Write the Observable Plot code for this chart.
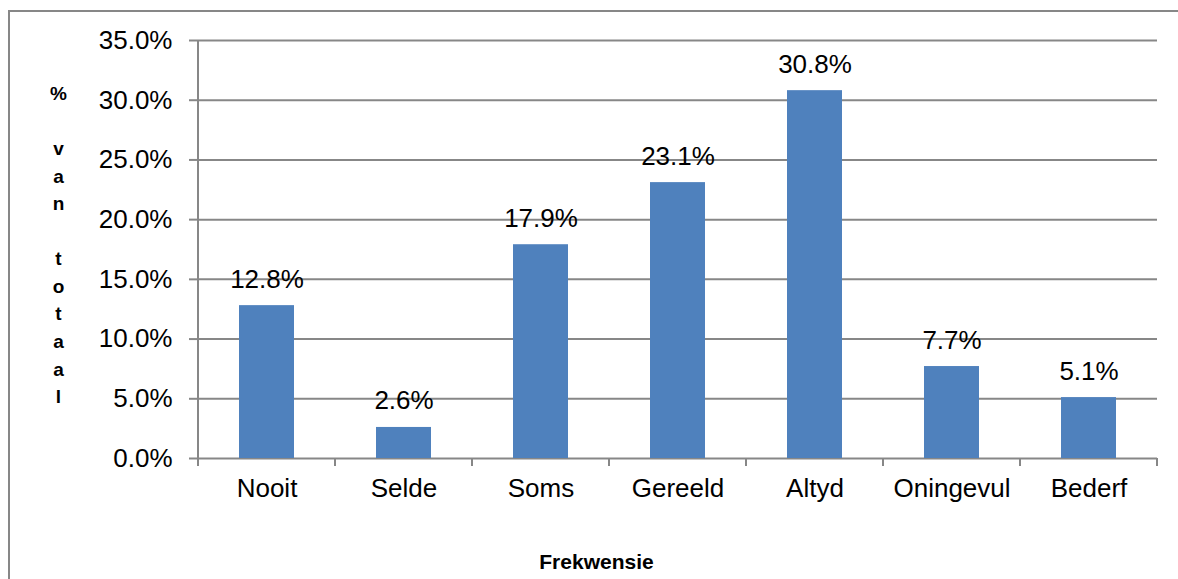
<!DOCTYPE html>
<html>
<head>
<meta charset="utf-8">
<script src="https://cdn.jsdelivr.net/npm/d3@7"></script>
<script src="https://cdn.jsdelivr.net/npm/@observablehq/plot@0.6"></script>
<style>
  html, body { margin: 0; padding: 0; background: #fff; }
  #chart { position: relative; width: 1178px; height: 579px; overflow: hidden; }
  #chart .edge { position: absolute; left: 8px; top: 10px; width: 1300px; height: 700px;
    border-left: 2px solid #878787; border-top: 2px solid #878787; }
  #chart svg { position: absolute; left: 0; top: 0; }
</style>
</head>
<body>
<div id="chart"><div class="edge"></div></div>
<script>
// Response frequency categories and their share of the total
const categories = ["Nooit", "Selde", "Soms", "Gereeld", "Altyd", "Oningevul", "Bederf"];
const shares = [0.128, 0.026, 0.179, 0.231, 0.308, 0.077, 0.051];
const yTicks = [0, 0.05, 0.10, 0.15, 0.20, 0.25, 0.30, 0.35];
const yTitle = "% van totaal";
const xTitle = "Frekwensie";

const rows = categories.map((c, i) => ({category: c, share: shares[i]}));
const pct = d3.format(".1%");
const gray = "#878787";
const font = "'Liberation Sans', Arial, sans-serif";

// Axis lines plus tick marks between categories
function categoryTicks(index, scales) {
  const x = scales.x, y = scales.y;
  const step = x(categories[1]) - x(categories[0]);
  const bw = typeof x.bandwidth === "function" ? x.bandwidth() : step * 0.4;
  const y0 = y(0);
  const g = d3.create("svg:g").attr("stroke", gray).attr("stroke-width", 2);
  const bounds = categories.map(c => x(c) - (step - bw) / 2);
  bounds.push(bounds[bounds.length - 1] + step);
  g.append("line")
    .attr("x1", bounds[0]).attr("x2", bounds[0])
    .attr("y1", y(yTicks[yTicks.length - 1])).attr("y2", y0 + 8);
  for (const bx of bounds.slice(1)) {
    g.append("line").attr("x1", bx).attr("x2", bx).attr("y1", y0).attr("y2", y0 + 8);
  }
  return g.node();
}

const chart = Plot.plot({
  width: 1178,
  height: 579,
  marginLeft: 197,
  marginRight: 21,
  marginTop: 40,
  marginBottom: 121,
  style: {fontFamily: font, background: "transparent", color: "#000"},
  x: {domain: categories, paddingInner: 0.6, paddingOuter: 0.3, label: null},
  y: {domain: [0, 0.35], label: null},
  marks: [
    Plot.ruleY(yTicks, {stroke: gray, strokeWidth: 2}),
    Plot.barY(rows, {x: "category", y: "share", fill: "#4F81BD"}),
    categoryTicks,
    Plot.axisY(yTicks, {
      tickSize: 8, tickPadding: 17, tickFormat: pct, fontSize: 26,
      stroke: gray, strokeWidth: 2, label: null
    }),
    Plot.axisX({tickSize: 0, tickPadding: 20, fontSize: 26, label: null}),
    Plot.text(rows, {
      x: "category", y: "share", text: d => pct(d.share),
      dy: -18, lineAnchor: "bottom", fontSize: 26, fill: "#000"
    }),
    // stacked vertical axis title
    Plot.text([yTitle.split("").map(ch => ch === " " ? "\u00a0" : ch).join("\n")], {
      frameAnchor: "top-left", dx: -139, dy: 40, lineAnchor: "top",
      textAnchor: "middle", lineHeight: 1.45, fontSize: 19, fontWeight: "bold", fill: "#000"
    }),
    Plot.text([xTitle], {
      frameAnchor: "bottom", dx: -81, dy: 110, lineAnchor: "bottom",
      fontSize: 21, fontWeight: "bold", fill: "#000"
    })
  ]
});

document.getElementById("chart").appendChild(chart);
</script>
</body>
</html>
